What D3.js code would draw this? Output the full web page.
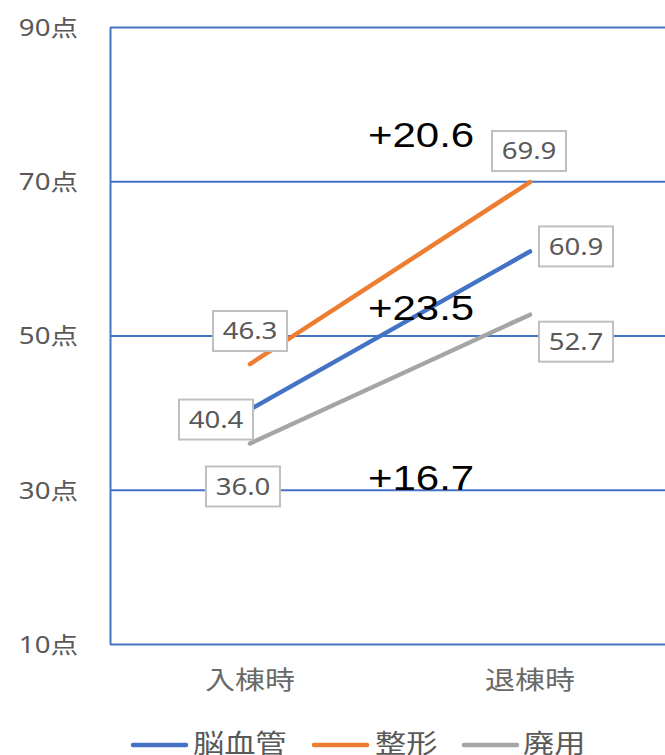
<!DOCTYPE html>
<html><head><meta charset="utf-8">
<script src="https://cdn.jsdelivr.net/npm/d3@7"></script>
<style>body{margin:0;background:#fff;overflow:hidden}svg{display:block}</style>
</head><body>
<script>
const categories = ["入棟時", "退棟時"];
const seriesNames = ["脳血管", "整形", "廃用"];
const strokeValues = [40.4, 60.9];
const orthoValues = [46.3, 69.9];
const disuseValues = [36.0, 52.7];
const yTicks = [10, 30, 50, 70, 90];
const gainLabels = ["+20.6", "+23.5", "+16.7"];
const gainLabelY = [74.4, 52.0, 30.0]; // value-space anchor for annotation baselines

const colors = ["#4472C4", "#ED7D31", "#A5A5A5"];
const series = [strokeValues, orthoValues, disuseValues];

const W = 665, H = 755;
const SX = 1.2; // horizontal glyph stretch seen in reference
const svg = d3.select("body").append("svg").attr("width", W).attr("height", H);

const x = d3.scaleBand().domain(categories).range([110, 670]);
const y = d3.scaleLinear().domain([10, 90]).range([644, 27]);
const cx = c => x(c) + x.bandwidth() / 2;

const FONT = "'Noto Sans','Noto Sans CJK JP',sans-serif";

// gridlines + y axis
const yAxis = d3.axisLeft(y).tickValues(yTicks).tickFormat(d => d + "点")
  .tickSize(-(670 - 110)).tickSizeOuter(0).tickPadding(0);
const gy = svg.append("g").attr("transform", "translate(110,0)").call(yAxis);
gy.select(".domain").attr("stroke", "#4472C4").attr("stroke-width", 2);
gy.selectAll(".tick line").attr("stroke", "#4472C4").attr("stroke-width", 2);
gy.selectAll(".tick text")
  .attr("x", -32 / SX).attr("dy", "0.36em")
  .attr("transform", `scale(${SX},1)`)
  .attr("fill", "#595959").style("font-family", FONT).style("font-size", "23px");

// x axis labels
const xAxis = d3.axisBottom(x).tickSize(0).tickPadding(0);
const gx = svg.append("g").attr("transform", "translate(0,670)").call(xAxis);
gx.select(".domain").remove();
gx.selectAll(".tick text").attr("dy", "0.75em")
  .attr("transform", `scale(${SX},1)`)
  .attr("x", 0)
  .attr("fill", "#6a6a6a").style("font-family", FONT).style("font-size", "25px");

// lines
const line = d3.line().x((d, i) => cx(categories[i])).y(d => y(d));
series.forEach((s, k) => {
  svg.append("path").datum(s).attr("d", line)
    .attr("fill", "none").attr("stroke", colors[k]).attr("stroke-width", 4.5)
    .attr("stroke-linecap", "round");
});

// data labels (offsets from points)
const labelOffsets = [
  [[-34, 10], [46, -5]],
  [[0, -33], [-1, -31]],
  [[-7, 43], [46, 27]]
];
const BW = 74, BH = 40;
series.forEach((s, k) => {
  s.forEach((v, i) => {
    const px = cx(categories[i]) + labelOffsets[k][i][0];
    const py = y(v) + labelOffsets[k][i][1];
    const g = svg.append("g").attr("transform", `translate(${px},${py})`);
    g.append("rect").attr("x", -BW / 2).attr("y", -BH / 2).attr("width", BW).attr("height", BH)
      .attr("fill", "#fff").attr("stroke", "#BFBFBF").attr("stroke-width", 2);
    g.append("text").attr("transform", `scale(${SX},1)`)
      .attr("text-anchor", "middle").attr("dy", "0.36em")
      .attr("fill", "#595959").style("font-family", FONT).style("font-size", "23px")
      .text(v.toFixed(1));
  });
});

// gain annotations
gainLabels.forEach((t, i) => {
  svg.append("g").attr("transform", `translate(368,${y(gainLabelY[i])})`)
    .append("text").attr("transform", `scale(${SX},1)`)
    .attr("fill", "#000").style("font-family", "'Liberation Sans',Arial,sans-serif")
    .style("font-size", "35px").text(t);
});

// legend
const legendItems = [[133, 193], [314, 375], [464, 523]];
seriesNames.forEach((n, k) => {
  const [lx, tx] = legendItems[k];
  svg.append("line").attr("x1", lx).attr("x2", lx + 53).attr("y1", 745).attr("y2", 745)
    .attr("stroke", colors[k]).attr("stroke-width", 4.5).attr("stroke-linecap", "round");
  svg.append("g").attr("transform", `translate(${tx},744)`)
    .append("text").attr("transform", `scale(${SX},1)`).attr("dy", "0.36em")
    .attr("fill", "#595959").style("font-family", FONT).style("font-size", "26px").text(n);
});
</script>
</body></html>
